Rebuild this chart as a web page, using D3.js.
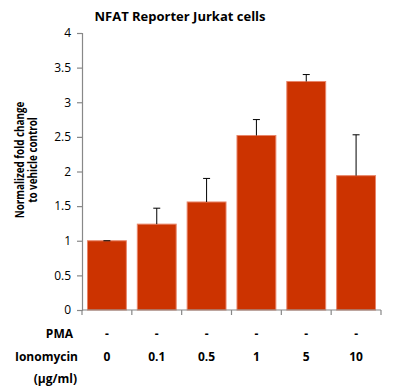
<!DOCTYPE html>
<html>
<head>
<meta charset="utf-8">
<script src="https://cdn.jsdelivr.net/npm/d3@7"></script>
<style>
  body { margin: 0; background: #fff; }
  text { font-family: "Open Sans", "Liberation Sans", sans-serif; fill: #000; }
</style>
</head>
<body>
<svg width="405" height="392"></svg>
<script>
const categories = ["0", "0.1", "0.5", "1", "5", "10"];
const pma = ["-", "-", "-", "-", "-", "-"];
const means = [1.0, 1.24, 1.56, 2.52, 3.3, 1.94];
const errors = [0.0, 0.23, 0.34, 0.23, 0.1, 0.59];
const yTicks = [0, 0.5, 1, 1.5, 2, 2.5, 3, 3.5, 4];

const svg = d3.select("svg");
const plotLeft = 82, plotRight = 381, plotTop = 33, plotBottom = 310;

const x = d3.scaleBand().domain(categories).range([plotLeft, plotRight]).paddingInner(0.22).paddingOuter(0.11);
const xTick = d3.scaleBand().domain(categories).range([plotLeft, plotRight]);
const y = d3.scaleLinear().domain([0, 4]).range([plotBottom, plotTop]);

// bars
svg.selectAll("rect.bar")
    .data(means)
    .enter()
    .append("rect")
    .attr("class", "bar")
    .attr("x", (d, i) => x(categories[i]))
    .attr("width", x.bandwidth())
    .attr("y", d => y(d))
    .attr("height", d => y(0) - y(d))
    .attr("fill", "#cc3300")
    .attr("stroke", "#e8866a")
    .attr("stroke-width", 1);

// error bars, upward only
const err = svg.selectAll("g.err")
    .data(means)
    .enter()
    .append("g")
    .attr("class", "err")
    .attr("stroke", "#000")
    .attr("stroke-width", 1);

err.append("line")
    .attr("x1", (d, i) => xTick(categories[i]) + xTick.bandwidth() / 2)
    .attr("x2", (d, i) => xTick(categories[i]) + xTick.bandwidth() / 2)
    .attr("y1", d => y(d))
    .attr("y2", (d, i) => y(d + errors[i]));

err.append("line")
    .attr("x1", (d, i) => xTick(categories[i]) + xTick.bandwidth() / 2 - 3.5)
    .attr("x2", (d, i) => xTick(categories[i]) + xTick.bandwidth() / 2 + 3.5)
    .attr("y1", (d, i) => y(d + errors[i]))
    .attr("y2", (d, i) => y(d + errors[i]));

// y axis
const yAxis = svg.append("g")
    .attr("transform", `translate(${plotLeft},0)`)
    .call(d3.axisLeft(y).tickValues(yTicks).tickSize(5).tickPadding(6).tickFormat(d3.format("")));
yAxis.selectAll("text").attr("font-size", "12px");

// x axis with ticks at band edges
const xAxis = svg.append("g")
    .attr("transform", `translate(0,${plotBottom})`);
xAxis.append("line")
    .attr("x1", plotLeft).attr("x2", plotRight)
    .attr("y1", 0).attr("y2", 0);
xAxis.selectAll("line.tk")
    .data(categories.concat(["end"]))
    .enter()
    .append("line")
    .attr("class", "tk")
    .attr("x1", (d, i) => i < categories.length ? xTick(d) : plotRight)
    .attr("x2", (d, i) => i < categories.length ? xTick(d) : plotRight)
    .attr("y1", 0).attr("y2", 5);
xAxis.selectAll("line").attr("stroke", "#888").attr("stroke-width", 1.2);
yAxis.selectAll("path, line").attr("stroke", "#888").attr("stroke-width", 1.2);

// title
svg.append("text")
    .attr("x", 180)
    .attr("y", 21)
    .attr("text-anchor", "middle")
    .attr("font-size", "13px")
    .attr("font-weight", "bold")
    .text("NFAT Reporter Jurkat cells");

// y label, two lines (squeezed along the text direction)
const ylab = [["Normalized fold change", 24], ["to vehicle control", 37]];
ylab.forEach(([txt, pos]) => {
    svg.append("text")
        .attr("transform", `translate(${pos},160) rotate(-90) scale(0.82,1)`)
        .attr("text-anchor", "middle")
        .attr("font-size", "12px")
        .attr("font-weight", "bold")
        .text(txt);
});

// bottom table
svg.append("text")
    .attr("x", 73).attr("y", 338)
    .attr("text-anchor", "end")
    .attr("font-size", "12px").attr("font-weight", "bold")
    .text("PMA");
svg.append("text")
    .attr("x", 78).attr("y", 361)
    .attr("text-anchor", "end")
    .attr("font-size", "12px").attr("font-weight", "bold")
    .text("Ionomycin");
svg.append("text")
    .attr("x", 77).attr("y", 383)
    .attr("text-anchor", "end")
    .attr("font-size", "12px").attr("font-weight", "bold")
    .text("(µg/ml)");

svg.selectAll("text.pma")
    .data(pma)
    .enter()
    .append("text")
    .attr("class", "pma")
    .attr("x", (d, i) => xTick(categories[i]) + xTick.bandwidth() / 2)
    .attr("y", 338)
    .attr("text-anchor", "middle")
    .attr("font-size", "12px").attr("font-weight", "bold")
    .text(d => d);

svg.selectAll("text.iono")
    .data(categories)
    .enter()
    .append("text")
    .attr("class", "iono")
    .attr("x", d => xTick(d) + xTick.bandwidth() / 2)
    .attr("y", 361)
    .attr("text-anchor", "middle")
    .attr("font-size", "12px").attr("font-weight", "bold")
    .text(d => d);
</script>
</body>
</html>
